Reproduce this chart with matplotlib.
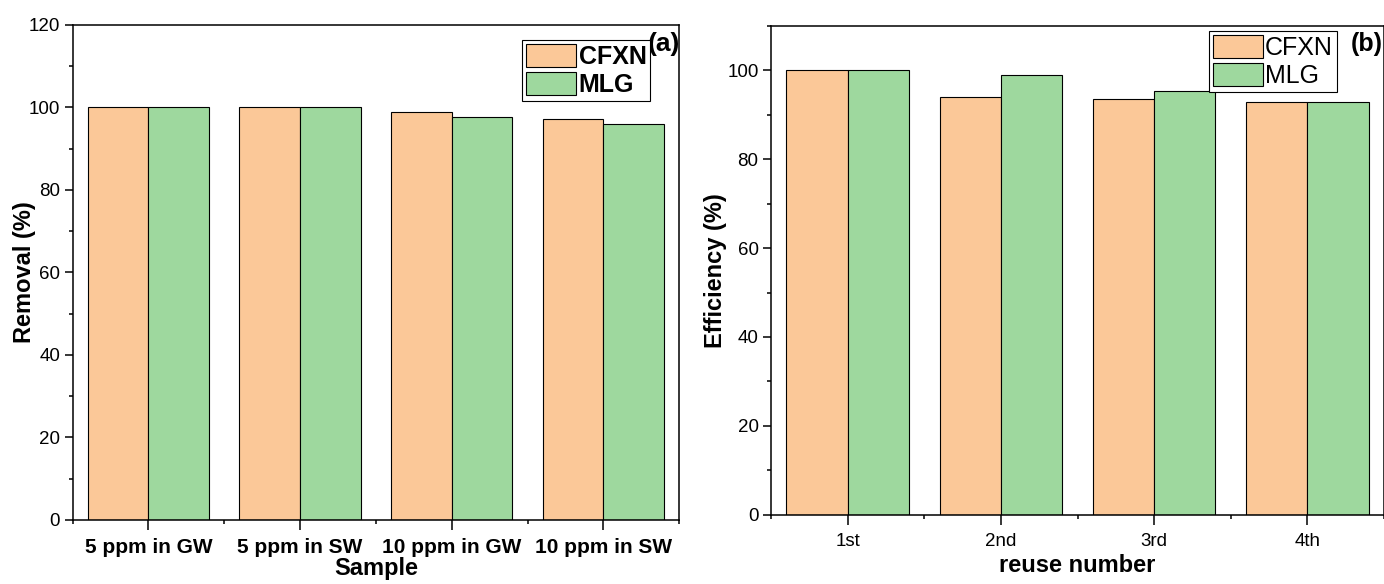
import matplotlib
matplotlib.use('Agg')
import matplotlib.pyplot as plt
import numpy as np
from matplotlib.ticker import MultipleLocator, FixedLocator

plt.rcParams['font.family'] = ['Liberation Sans', 'DejaVu Sans']

# panel (a) - removal in real water samples
samples = ['5 ppm in GW', '5 ppm in SW', '10 ppm in GW', '10 ppm in SW']
removal_cfxn = [100, 100, 98.8, 97.2]
removal_mlg = [100, 100, 97.6, 96.1]

# panel (b) - reuse cycles
reuse = ['1st', '2nd', '3rd', '4th']
eff_cfxn = [100, 94.0, 93.6, 92.8]
eff_mlg = [100, 99.0, 95.3, 92.8]

c_orange = '#FBC898'
c_green = '#9ED89E'
width = 0.4

fig = plt.figure(figsize=(13.84, 5.84), dpi=100)
ax1 = fig.add_axes([0.0525, 0.1096, 0.4383, 0.8476])
ax2 = fig.add_axes([0.5571, 0.1187, 0.4429, 0.8368])


def style_axis(ax):
    for s in ax.spines.values():
        s.set_linewidth(1.1)
    ax.tick_params(which='major', direction='out', length=5.5, width=1.1, labelsize=13.5)
    ax.tick_params(which='minor', direction='out', length=3, width=1.1)
    ax.xaxis.set_minor_locator(FixedLocator([-0.5, 0.5, 1.5, 2.5, 3.5]))
    ax.yaxis.set_minor_locator(MultipleLocator(10))
    ax.set_xlim(-0.5, 3.5)


# (a)
pos = np.arange(len(samples))
ax1.bar(pos - width/2, removal_cfxn, width, color=c_orange, edgecolor='black', linewidth=0.8, label='CFXN')
ax1.bar(pos + width/2, removal_mlg, width, color=c_green, edgecolor='black', linewidth=0.8, label='MLG')
style_axis(ax1)
ax1.set_ylim(0, 120)
ax1.set_yticks(range(0, 121, 20))
ax1.set_xticks(pos)
ax1.set_xticklabels(samples, fontsize=15, fontweight='bold')
ax1.tick_params(axis='x', which='major', length=7, pad=6)
ax1.set_xlabel('Sample', fontsize=17, fontweight='bold', labelpad=0)
ax1.set_ylabel('Removal (%)', fontsize=17, fontweight='bold', labelpad=-5)
leg1 = ax1.legend(loc='upper right', bbox_to_anchor=(0.952, 0.970), borderaxespad=0,
                  prop={'size': 18, 'weight': 'bold'}, handlelength=2.0, handleheight=1.05,
                  handletextpad=0.1, labelspacing=0.12, borderpad=0.15, fancybox=False,
                  edgecolor='black', framealpha=1)
leg1.get_frame().set_linewidth(0.8)
ax1.text(0.974, 0.962, '(a)', transform=ax1.transAxes, fontsize=19, fontweight='bold',
         ha='center', va='center')

# (b)
pos = np.arange(len(reuse))
ax2.bar(pos - width/2, eff_cfxn, width, color=c_orange, edgecolor='black', linewidth=0.8, label='CFXN')
ax2.bar(pos + width/2, eff_mlg, width, color=c_green, edgecolor='black', linewidth=0.8, label='MLG')
style_axis(ax2)
ax2.set_ylim(0, 110)
ax2.set_yticks(range(0, 101, 20))
ax2.set_xticks(pos)
ax2.set_xticklabels(reuse, fontsize=13.5)
ax2.tick_params(axis='x', which='major', length=7, pad=6)
ax2.set_xlabel('reuse number', fontsize=17, fontweight='bold', labelpad=3)
ax2.set_ylabel('Efficiency (%)', fontsize=17, fontweight='bold', labelpad=0)
leg2 = ax2.legend(loc='upper right', bbox_to_anchor=(0.923, 0.990), borderaxespad=0,
                  prop={'size': 18}, handlelength=2.0, handleheight=1.05,
                  handletextpad=0.1, labelspacing=0.12, borderpad=0.15, fancybox=False,
                  edgecolor='black', framealpha=1)
leg2.get_frame().set_linewidth(0.8)
ax2.text(0.972, 0.963, '(b)', transform=ax2.transAxes, fontsize=18, fontweight='bold',
         ha='center', va='center')

fig.savefig('out.png', dpi=100)
